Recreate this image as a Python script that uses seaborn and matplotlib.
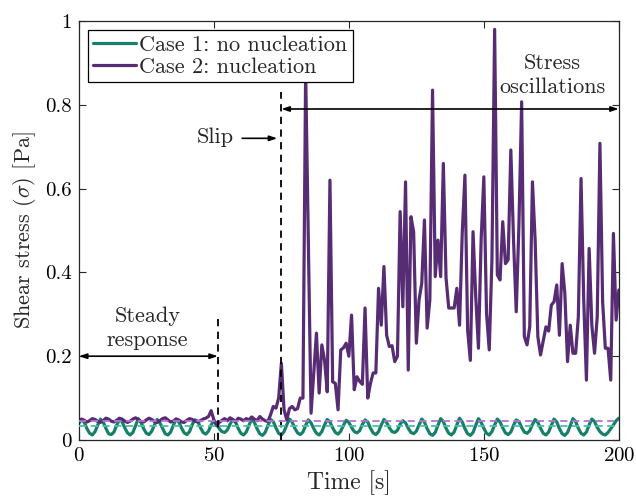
import numpy as np
import pandas as pd
import matplotlib
matplotlib.use("Agg")
import matplotlib.pyplot as plt
import seaborn as sns

# sampled once per second, 0..200 s
time_s = np.arange(0, 201)

case1_no_nucleation = [0.040] + [
    0.049, 0.042, 0.027, 0.016, 0.012, 0.020, 0.036,
    0.050, 0.043, 0.028, 0.015, 0.013, 0.019, 0.035,
    0.048, 0.044, 0.029, 0.017, 0.012, 0.018, 0.034,
    0.051, 0.042, 0.027, 0.016, 0.013, 0.021, 0.036,
    0.049, 0.041, 0.028, 0.015, 0.012, 0.019, 0.035,
    0.050, 0.043, 0.029, 0.017, 0.013, 0.020, 0.037,
    0.048, 0.045, 0.030, 0.018, 0.014, 0.021, 0.036,
    0.047, 0.040, 0.027, 0.020, 0.018, 0.024, 0.038,
    0.049, 0.043, 0.028, 0.016, 0.012, 0.019, 0.035,
    0.050, 0.042, 0.027, 0.015, 0.011, 0.018, 0.034,
    0.049, 0.044, 0.029, 0.016, 0.012, 0.020, 0.036,
    0.050, 0.043, 0.028, 0.017, 0.013, 0.019, 0.035,
    0.048, 0.041, 0.027, 0.016, 0.012, 0.020, 0.036,
    0.049, 0.043, 0.029, 0.018, 0.014, 0.021, 0.035,
    0.047, 0.042, 0.030, 0.020, 0.017, 0.022, 0.037,
    0.048, 0.043, 0.028, 0.017, 0.013, 0.020, 0.036,
    0.049, 0.042, 0.029, 0.020, 0.018, 0.023, 0.038,
    0.046, 0.041, 0.028, 0.018, 0.015, 0.021, 0.036,
    0.050, 0.043, 0.027, 0.015, 0.011, 0.018, 0.035,
    0.051, 0.044, 0.028, 0.016, 0.012, 0.019, 0.036,
    0.052, 0.043, 0.027, 0.015, 0.011, 0.018, 0.035,
    0.051, 0.042, 0.028, 0.016, 0.012, 0.020, 0.036,
    0.050, 0.043, 0.029, 0.017, 0.013, 0.019, 0.035,
    0.048, 0.044, 0.030, 0.019, 0.016, 0.022, 0.037,
    0.049, 0.042, 0.028, 0.016, 0.012, 0.019, 0.035,
    0.050, 0.043, 0.027, 0.015, 0.011, 0.018, 0.034,
    0.051, 0.044, 0.028, 0.016, 0.012, 0.019, 0.036,
    0.050, 0.044, 0.030, 0.020, 0.014, 0.012, 0.018,
    0.027, 0.036, 0.046, 0.052,
]

case2_nucleation = [
    0.046, 0.050, 0.047, 0.043, 0.046, 0.051, 0.049, 0.044, 0.042, 0.046,
    0.052, 0.050, 0.045, 0.043, 0.047, 0.052, 0.050, 0.045, 0.042, 0.045,
    0.050, 0.053, 0.049, 0.044, 0.043, 0.048, 0.052, 0.049, 0.044, 0.042,
    0.046, 0.051, 0.053, 0.048, 0.043, 0.045, 0.050, 0.048, 0.043, 0.042,
    0.047, 0.051, 0.049, 0.045, 0.043, 0.046, 0.050, 0.052, 0.056, 0.070,
    0.048, 0.034, 0.042, 0.047, 0.051, 0.046, 0.053, 0.049, 0.043, 0.052,
    0.050, 0.046, 0.051, 0.048, 0.055, 0.050, 0.046, 0.056, 0.050, 0.046,
    0.044, 0.060, 0.080, 0.076, 0.100, 0.183, 0.072, 0.048, 0.075, 0.080,
    0.072, 0.075, 0.100, 0.100, 0.880, 0.470, 0.064, 0.160, 0.255, 0.112,
    0.227, 0.190, 0.115, 0.620, 0.139, 0.135, 0.072, 0.215, 0.220, 0.231,
    0.200, 0.298, 0.120, 0.151, 0.140, 0.133, 0.315, 0.100, 0.135, 0.160,
    0.160, 0.362, 0.274, 0.414, 0.250, 0.223, 0.225, 0.187, 0.200, 0.545,
    0.318, 0.616, 0.167, 0.533, 0.497, 0.231, 0.334, 0.374, 0.525, 0.267,
    0.334, 0.835, 0.390, 0.477, 0.390, 0.660, 0.387, 0.315, 0.315, 0.315,
    0.362, 0.274, 0.494, 0.632, 0.262, 0.190, 0.497, 0.342, 0.219, 0.477,
    0.628, 0.302, 0.215, 0.430, 0.980, 0.394, 0.382, 0.521, 0.421, 0.430,
    0.692, 0.477, 0.306, 0.513, 0.807, 0.247, 0.227, 0.270, 0.616, 0.477,
    0.247, 0.203, 0.236, 0.270, 0.260, 0.322, 0.330, 0.370, 0.250, 0.421,
    0.350, 0.187, 0.274, 0.207, 0.207, 0.294, 0.624, 0.334, 0.143, 0.457,
    0.274, 0.207, 0.294, 0.708, 0.330, 0.219, 0.219, 0.143, 0.493, 0.286,
    0.358,
]

# reference (dashed) levels
case1_level = 0.034
case2_level = 0.046

x_ticks = [0, 50, 100, 150, 200]
y_ticks = [0, 0.2, 0.4, 0.6, 0.8, 1]
y_tick_labels = ["0", "0.2", "0.4", "0.6", "0.8", "1"]

green = "#17806a"
purple = "#582c74"
green_light = "#46c2a4"
purple_light = "#b873d6"

sns.set_style("ticks")
plt.rcParams["font.family"] = ["cmr10", "DejaVu Serif"]
plt.rcParams["mathtext.fontset"] = "cm"
plt.rcParams["axes.unicode_minus"] = False
plt.rcParams["axes.formatter.use_mathtext"] = True

df = pd.DataFrame({
    "time": time_s,
    "Case 1: no nucleation": case1_no_nucleation,
    "Case 2: nucleation": case2_nucleation,
})

fig = plt.figure(figsize=(6.36, 5.0), dpi=100)
ax = fig.add_axes([0.124, 0.12, 0.849, 0.838])

sns.lineplot(data=df, x="time", y="Case 1: no nucleation", color=green,
             lw=2.3, ax=ax, label="Case 1: no nucleation")
sns.lineplot(data=df, x="time", y="Case 2: nucleation", color=purple,
             lw=2.3, ax=ax, label="Case 2: nucleation")

ax.axhline(case2_level, color=purple_light, lw=1.3, ls=(0, (4, 2.5)), zorder=3)
ax.axhline(case1_level, color=green_light, lw=1.3, ls=(0, (4, 2.5)), zorder=3)

# event markers
ax.plot([51.5, 51.5], [0, 0.30], color="black", lw=1.3, ls=(0, (4, 3)))
ax.plot([75, 75], [0, 0.83], color="black", lw=1.3, ls=(0, (4, 3)))

arrow_kw = dict(color="black", lw=1.2, shrinkA=0, shrinkB=0)
ax.annotate("", xy=(0, 0.2), xytext=(51.5, 0.2),
            arrowprops=dict(arrowstyle="<|-|>,head_length=0.45,head_width=0.15", **arrow_kw))
ax.annotate("", xy=(75, 0.79), xytext=(200, 0.79),
            arrowprops=dict(arrowstyle="<|-|>,head_length=0.45,head_width=0.15", **arrow_kw))
ax.annotate("", xy=(73.5, 0.72), xytext=(60.5, 0.72),
            arrowprops=dict(arrowstyle="-|>,head_length=0.45,head_width=0.15", **arrow_kw))

ax.text(25.5, 0.267, "Steady\nresponse", ha="center", va="center",
        fontsize=16, linespacing=1.3)
ax.text(175.5, 0.87, "Stress\noscillations", ha="center", va="center",
        fontsize=16, linespacing=1.3)
ax.text(50.5, 0.723, "Slip", ha="center", va="center", fontsize=16)

ax.set_xlim(0, 200)
ax.set_ylim(0, 1)
ax.set_xticks(x_ticks)
ax.set_yticks(y_ticks)
ax.set_yticklabels(y_tick_labels)
ax.tick_params(direction="in", top=True, right=True, length=5, width=0.8,
               labelsize=15, colors="#262626", labelcolor="black", pad=5)
for s in ax.spines.values():
    s.set_linewidth(0.9)
    s.set_color("#262626")

ax.set_xlabel("Time [s]", fontsize=17, labelpad=4)
ax.set_ylabel(r"Shear stress ($\sigma$) [Pa]", fontsize=16, labelpad=5)

leg = ax.legend(loc="upper left", bbox_to_anchor=(0.0, 1.0), fontsize=16,
                frameon=True, fancybox=False, framealpha=1, edgecolor="black",
                handlelength=1.9, handletextpad=0.15, borderpad=0.25,
                labelspacing=0.1, borderaxespad=0.4)
leg.get_frame().set_linewidth(0.9)

fig.savefig("out.png", dpi=100)
